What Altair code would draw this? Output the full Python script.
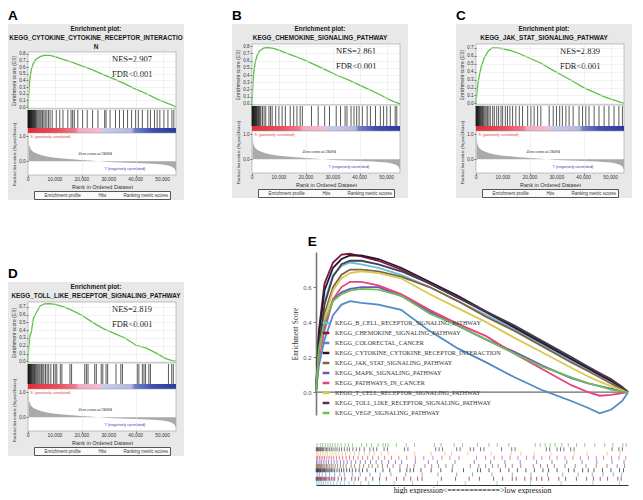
import altair as alt
import pandas as pd

# ---------------------------------------------------------------- data
X_MAX = 55000
RANKS = [0, 300, 700, 1200, 2000, 3000, 4500, 6000, 8000, 10000, 13000, 16000,
         20000, 24000, 28000, 32000, 36000, 40000, 44000, 48000, 51000, 53500, 55000]
ES_A = [0, 0.22, 0.42, 0.56, 0.66, 0.72, 0.76, 0.78, 0.78, 0.76, 0.72, 0.68,
        0.62, 0.56, 0.49, 0.42, 0.35, 0.27, 0.20, 0.12, 0.07, 0.03, 0.0]
ES_B = [0, 0.25, 0.45, 0.58, 0.68, 0.74, 0.775, 0.78, 0.77, 0.745, 0.70, 0.66,
        0.60, 0.53, 0.46, 0.39, 0.33, 0.26, 0.19, 0.12, 0.06, 0.02, 0.0]
ES_C = [0, 0.12, 0.25, 0.35, 0.47, 0.57, 0.66, 0.70, 0.70, 0.69, 0.665, 0.63,
        0.57, 0.51, 0.43, 0.355, 0.28, 0.20, 0.14, 0.08, 0.045, 0.015, 0.0]
ES_D = [0, 0.18, 0.33, 0.37, 0.55, 0.62, 0.71, 0.735, 0.74, 0.73, 0.70, 0.66,
        0.59, 0.50, 0.42, 0.36, 0.30, 0.21, 0.17, 0.10, 0.04, 0.01, 0.0]

HITS_A = [30, 120, 210, 300, 420, 540, 660, 780, 900, 1050, 1200, 1350, 1500, 1700, 1900,
          2100, 2300, 2500, 2750, 3000, 3300, 3700, 4100, 4500, 4900, 5400, 5900, 6400, 7000,
          7600, 8200, 9000, 10500, 11800, 13000, 14800, 16000, 16600, 17200, 18500, 20300,
          22000, 24000, 26000, 28500, 29000, 30500, 32500, 34000, 35500, 37000, 38500, 40000,
          41000, 42500, 44500, 45500, 47000, 48000, 49000, 50500, 52000, 53500, 54200]
HITS_B = [30, 130, 250, 380, 500, 650, 800, 950, 1100, 1300, 1500, 1700, 1900, 2150, 2400,
          2700, 3000, 3300, 3900, 4500, 5100, 6300, 6900, 7500, 8800, 10000, 11200, 12400,
          14200, 15500, 16700, 17900, 18700, 22100, 24600, 27000, 28800, 31300, 32900, 34600,
          35300, 36800, 37900, 38900, 39800, 41000, 42800, 44000, 45900, 47700, 48900, 50100,
          51400, 53200, 53800]
HITS_C = [40, 150, 280, 420, 560, 700, 850, 1000, 1200, 1400, 1600, 1850, 2100, 2400, 2700,
          3000, 3400, 3800, 4300, 4800, 5300, 6200, 6800, 7700, 8400, 9300, 9900, 10900, 11700,
          12600, 13600, 14800, 16100, 17300, 19200, 20400, 21600, 22900, 24100, 27200, 28700,
          29900, 31100, 32100, 33400, 34600, 36100, 38300, 39600, 40800, 42000, 43900, 45700,
          47600, 49400, 51300, 53100, 54400]
HITS_D = [40, 150, 260, 380, 500, 650, 800, 950, 1150, 1350, 1600, 1850, 2100, 2400, 2700,
          3000, 3350, 3700, 4100, 4500, 5000, 5500, 5900, 6500, 7100, 7700, 8500, 9500, 10100,
          10700, 12000, 12600, 15600, 16200, 21100, 21700, 22300, 24800, 25400, 27200, 27800,
          29000, 29600, 32700, 34500, 35100, 40600, 41200, 42500, 43100, 43700, 44900, 45500,
          52200, 53400, 54000]

METRIC_RANKS = [0, 200, 500, 1000, 2000, 3500, 5000, 7500, 10000, 15000, 20000, 24000,
                26094, 30000, 35000, 40000, 45000, 50000, 52000, 53500, 54500, 55000]
METRIC_VALUES = [1.1, 0.85, 0.62, 0.47, 0.36, 0.29, 0.24, 0.18, 0.14, 0.09, 0.05, 0.02,
                 0.0, -0.03, -0.05, -0.07, -0.09, -0.13, -0.17, -0.22, -0.3, -0.42]

XTICKS = [0, 10000, 20000, 30000, 40000, 50000]
XTICK_LABELS = ["0", "10,000", "20,000", "30,000", "40,000", "50,000"]

PANEL_TITLES = {
    "A": ["Enrichment plot:", "KEGG_CYTOKINE_CYTOKINE_RECEPTOR_INTERACTIO", "N"],
    "B": ["Enrichment plot:", "KEGG_CHEMOKINE_SIGNALING_PATHWAY"],
    "C": ["Enrichment plot:", "KEGG_JAK_STAT_SIGNALING_PATHWAY"],
    "D": ["Enrichment plot:", "KEGG_TOLL_LIKE_RECEPTOR_SIGNALING_PATHWAY"],
}
NES = {"A": "NES=2.907", "B": "NES=2.861", "C": "NES=2.839", "D": "NES=2.819"}
LEGEND_ITEMS = ["Enrichment profile", "Hits", "Ranking metric scores"]

E_RANKS = [0, 500, 1500, 3000, 4500, 6000, 8000, 11000, 15000, 20000, 25000, 30000,
           35000, 40000, 45000, 48000, 50000, 52000, 54000, 55000]
E_B_CELL = [0, 0.30, 0.52, 0.67, 0.72, 0.74, 0.73, 0.71, 0.67, 0.60, 0.52, 0.44,
            0.36, 0.27, 0.18, 0.13, 0.095, 0.06, 0.02, 0]
E_CHEMOKINE = [0, 0.35, 0.62, 0.74, 0.785, 0.79, 0.775, 0.75, 0.70, 0.62, 0.54, 0.455,
               0.37, 0.28, 0.19, 0.14, 0.10, 0.065, 0.025, 0]
E_COLORECTAL = [0, 0.15, 0.30, 0.44, 0.50, 0.52, 0.51, 0.50, 0.47, 0.35, 0.25, 0.17,
                0.085, 0.01, -0.05, -0.09, -0.12, -0.10, -0.05, 0]
E_CYTOKINE = [0, 0.33, 0.58, 0.71, 0.76, 0.78, 0.78, 0.76, 0.71, 0.63, 0.55, 0.46,
              0.37, 0.28, 0.19, 0.135, 0.10, 0.065, 0.025, 0]
E_JAK_STAT = [0, 0.22, 0.45, 0.60, 0.67, 0.70, 0.70, 0.69, 0.66, 0.60, 0.52, 0.43,
              0.35, 0.26, 0.17, 0.12, 0.085, 0.05, 0.015, 0]
E_MAPK = [0, 0.20, 0.38, 0.53, 0.57, 0.59, 0.60, 0.60, 0.55, 0.46, 0.38, 0.30,
          0.23, 0.15, 0.08, 0.05, 0.035, 0.02, 0.005, 0]
E_PATHWAYS = [0, 0.20, 0.35, 0.53, 0.60, 0.63, 0.63, 0.61, 0.56, 0.47, 0.39, 0.32,
              0.22, 0.13, 0.04, 0.0, -0.02, -0.015, -0.005, 0]
E_T_CELL = [0, 0.22, 0.42, 0.58, 0.65, 0.68, 0.69, 0.68, 0.65, 0.56, 0.48, 0.40,
            0.31, 0.225, 0.14, 0.09, 0.06, 0.035, 0.01, 0]
E_TOLL = [0, 0.25, 0.50, 0.66, 0.73, 0.75, 0.75, 0.73, 0.69, 0.62, 0.54, 0.46,
          0.38, 0.29, 0.20, 0.145, 0.11, 0.075, 0.03, 0]
E_VEGF = [0, 0.25, 0.40, 0.52, 0.56, 0.58, 0.59, 0.585, 0.55, 0.45, 0.38, 0.30,
          0.22, 0.145, 0.085, 0.05, 0.035, 0.015, 0.005, 0]

E_NAMES = ["KEGG_B_CELL_RECEPTOR_SIGNALING_PATHWAY", "KEGG_CHEMOKINE_SIGNALING_PATHWAY",
           "KEGG_COLORECTAL_CANCER", "KEGG_CYTOKINE_CYTOKINE_RECEPTOR_INTERACTION",
           "KEGG_JAK_STAT_SIGNALING_PATHWAY", "KEGG_MAPK_SIGNALING_PATHWAY",
           "KEGG_PATHWAYS_IN_CANCER", "KEGG_T_CELL_RECEPTOR_SIGNALING_PATHWAY",
           "KEGG_TOLL_LIKE_RECEPTOR_SIGNALING_PATHWAY", "KEGG_VEGF_SIGNALING_PATHWAY"]
E_COLORS = ["#5ec4d8", "#7d1842", "#4f8cc6", "#2a1830", "#7f6249",
            "#6958b4", "#e6427e", "#d9c94c", "#4a3a4c", "#6cbd5c"]

BAR_VEGF = [175, 760, 1170, 1630, 2100, 2510, 2915, 3380, 3850, 4430, 5130, 5710, 6410, 8050,
            8920, 9800, 10960, 11830, 12240, 12710, 14160, 15910, 17370, 20870, 22040, 24370,
            25830, 28450, 30490, 31950, 33990, 38650, 39530, 40400, 41280, 42150, 43320, 44480,
            45940, 47390, 49140, 50890, 52350, 54100, 54680]
BAR_T_CELL = [100, 400, 800, 1200, 1600, 2000, 2500, 3000, 3500, 4000, 4600, 5200, 6000, 6800,
              7600, 8500, 9400, 10300, 11500, 12700, 17400, 20300, 22700, 23900, 26800, 30900,
              34400, 36100, 38500, 41400, 45500, 47800, 51300, 53600]
BAR_PATHWAYS = [100, 300, 600, 900, 1200, 1500, 1900, 2300, 2700, 3100, 3600, 4100, 4700, 5300,
                5900, 6600, 7400, 8200, 9100, 10000, 11000, 12100, 13300, 14600, 16000, 17500,
                19000, 20600, 22200, 23600, 25200, 28300, 29900, 31400, 32800, 34200, 35600,
                37100, 38400, 39800, 41200, 42500, 43900, 45300, 46600, 48000, 49400, 50700,
                52100, 53400, 54600]
BAR_MAPK = [100, 350, 700, 1000, 1400, 1800, 2200, 2700, 3200, 3700, 4300, 4900, 5500, 6200,
            7000, 7800, 8700, 9600, 10600, 11600, 12800, 14000, 15100, 17500, 19800, 21400,
            24500, 27900, 30800, 33300, 36000, 38900, 41600, 44200, 46900, 49500, 52200, 54300]
BAR_COLORECTAL = [200, 600, 1100, 1700, 2400, 3300, 4200, 5000, 6400, 7800, 9500, 11300, 13200,
                  15800, 18700, 21500, 24800, 27600, 31000, 34600, 37900, 40800, 43500, 46200,
                  48700, 50600, 52400, 53900]
BAR_B_CELL = [100, 400, 700, 1000, 1300, 1700, 2100, 2600, 3100, 3700, 4300, 5000, 5800, 6700,
              7900, 9300, 11200, 13800, 17000, 21400, 26300, 31900, 37800, 43200, 48800, 53500]

# ---------------------------------------------------------------- style
SANS = "Liberation Sans"
SERIF = "Liberation Serif"
PANEL_GRAY = "#e8e8e8"
FRAME = "#9a9a9a"
GREEN = "#5fbf46"
PLOT_W = 148
LEFT = 20
RIGHT = 8
ONE = pd.DataFrame({"k": [0]})
XS = alt.Scale(domain=[0, X_MAX], nice=False, zero=False)

STRIP = alt.LinearGradient(
    gradient="linear", x1=0, x2=1, y1=0, y2=0,
    stops=[alt.GradientStop(offset=0.0, color="#e42a32"),
           alt.GradientStop(offset=0.2, color="#e8505c"),
           alt.GradientStop(offset=0.32, color="#f07890"),
           alt.GradientStop(offset=0.34, color="#f4a8bc"),
           alt.GradientStop(offset=0.49, color="#f0c0d0"),
           alt.GradientStop(offset=0.5, color="#cccbe8"),
           alt.GradientStop(offset=0.7, color="#b4b6e0"),
           alt.GradientStop(offset=0.72, color="#7080c8"),
           alt.GradientStop(offset=0.84, color="#4050b0"),
           alt.GradientStop(offset=1.0, color="#2a3aa0")])


def box(x1, x2, y1, y2, **kw):
    return alt.Chart(ONE).mark_rect(**kw).encode(
        x=alt.value(x1), x2=alt.value(x2), y=alt.value(y1), y2=alt.value(y2))


def header_view(key, title_h):
    bg = box(-LEFT, PLOT_W + RIGHT, 0, title_h, color=PANEL_GRAY)
    head = alt.Chart(ONE).mark_text(align="center", baseline="top", font=SANS,
                                    fontSize=6.4, fontWeight="bold", color="#1a1a1a",
                                    lineHeight=9).encode(
        x=alt.value((PLOT_W + RIGHT - LEFT) / 2), y=alt.value(1.5),
        text=alt.value(PANEL_TITLES[key]))
    return alt.layer(bg, head).properties(width=PLOT_W, height=title_h)


def es_view(key, values, dom, ticks, es_h):
    df = pd.DataFrame({"rank": RANKS, "es": values})
    bg = box(-LEFT, PLOT_W + RIGHT, 0, es_h, color=PANEL_GRAY)
    frame = box(0, PLOT_W, 0, es_h, fill="white", stroke=FRAME, strokeWidth=0.6)
    line = alt.Chart(df).mark_line(color=GREEN, strokeWidth=1.3).encode(
        x=alt.X("rank:Q", scale=XS,
                axis=alt.Axis(values=XTICKS, labels=False, ticks=False, domain=False,
                              grid=True, gridColor="#e4e4e4", gridWidth=0.5,
                              title=None, zindex=1)),
        y=alt.Y("es:Q", scale=alt.Scale(domain=dom, nice=False, zero=False),
                axis=alt.Axis(values=ticks, format=".1f", labelFont=SANS,
                              labelFontSize=4.5, labelColor="#333", labelPadding=1,
                              labelOverlap=False,
                              tickSize=2, tickColor="#777", domain=False,
                              grid=True, gridColor="#e4e4e4", gridWidth=0.5,
                              title="Enrichment score (ES)", titleFont=SANS,
                              titleFontSize=5, titleFontWeight="normal",
                              titleColor="#333", titlePadding=2, zindex=1)))
    nes = alt.Chart(ONE).mark_text(align="left", baseline="middle", font=SERIF,
                                   fontSize=8.5, color="#111").encode(
        x=alt.value(84), y=alt.value(7), text=alt.value(NES[key]))
    fdr = alt.Chart(ONE).mark_text(align="left", baseline="middle", font=SERIF,
                                   fontSize=8.5, color="#111").encode(
        x=alt.value(84), y=alt.value(22), text=alt.value("FDR<0.001"))
    return alt.layer(bg, frame, line, nes, fdr).properties(width=PLOT_W, height=es_h)


def hits_view(hits, hits_h):
    bar_h = hits_h - 5
    df = pd.DataFrame({"rank": hits})
    bg = box(-LEFT, PLOT_W + RIGHT, 0, hits_h, color=PANEL_GRAY)
    frame = box(0, PLOT_W, 0, hits_h, fill="white", stroke=FRAME, strokeWidth=0.6)
    rules = alt.Chart(df).mark_rule(color="#111", strokeWidth=0.7).encode(
        x=alt.X("rank:Q", scale=XS, axis=None),
        y=alt.value(1), y2=alt.value(bar_h))
    strip = alt.Chart(ONE).mark_rect(color=STRIP).encode(
        x=alt.datum(0), x2=alt.datum(X_MAX), y=alt.value(bar_h), y2=alt.value(hits_h))
    return alt.layer(bg, frame, rules, strip).properties(width=PLOT_W, height=hits_h)


def ranked_view(ranked_h, bottom_h):
    df = pd.DataFrame({"rank": METRIC_RANKS, "metric": METRIC_VALUES,
                       "series": ["Ranking metric scores"] * len(METRIC_RANKS)})
    tick_df = pd.DataFrame({"rank": XTICKS, "label": XTICK_LABELS})
    bg = box(-LEFT, PLOT_W + RIGHT, 0, ranked_h + bottom_h, color=PANEL_GRAY)
    frame = box(0, PLOT_W, 0, ranked_h, fill="white", stroke=FRAME, strokeWidth=0.6)
    area = alt.Chart(df).mark_area(opacity=1).encode(
        x=alt.X("rank:Q", scale=XS,
                axis=alt.Axis(values=XTICKS, labels=False,
                              tickSize=2, tickColor="#777", domain=False,
                              grid=True, gridColor="#e4e4e4", gridWidth=0.5,
                              title="Rank in Ordered Dataset", titleFont=SANS,
                              titleFontSize=5.5, titleFontWeight="normal",
                              titleColor="#333", titlePadding=7, zindex=1)),
        y=alt.Y("metric:Q", scale=alt.Scale(domain=[-0.55, 1.12], nice=False, zero=False),
                axis=alt.Axis(values=[0, 0.5, 1.0], format=".1f", labelFont=SANS,
                              labelFontSize=4.5, labelColor="#333", labelPadding=1,
                              labelOverlap=False,
                              tickSize=2, tickColor="#777", domain=False, grid=False,
                              title="Ranked list metric (Signal2Noise)", titleFont=SANS,
                              titleFontSize=4.3, titleFontWeight="normal",
                              titleColor="#333", titlePadding=2, zindex=1)),
        color=alt.Color("series:N",
                        scale=alt.Scale(domain=LEGEND_ITEMS,
                                        range=[GREEN, "#222222", "#aaaaaa"]),
                        legend=alt.Legend(orient="none", legendX=6, legendY=ranked_h + 16,
                                          direction="horizontal", title=None,
                                          symbolType="stroke", symbolSize=30,
                                          symbolStrokeWidth=1, labelFont=SANS,
                                          labelFontSize=4.5, labelColor="#333",
                                          labelOffset=2, columnPadding=8, padding=1.5,
                                          strokeColor="#555", fillColor="#fafafa",
                                          zindex=1)))
    xlab = alt.Chart(tick_df).mark_text(align="center", baseline="middle", font=SANS,
                                        fontSize=4.8, color="#333").encode(
        x=alt.X("rank:Q", scale=XS), y=alt.value(ranked_h + 4.5), text="label:N")
    t_h = alt.Chart(ONE).mark_text(align="left", baseline="middle", font=SANS,
                                   fontSize=3.8, color="#e03a3a").encode(
        x=alt.value(2), y=alt.value(4), text=alt.value("'h' (positively correlated)"))
    t_z = alt.Chart(ONE).mark_text(align="center", baseline="middle", font=SANS,
                                   fontSize=3.8, color="#222").encode(
        x=alt.datum(25000), y=alt.datum(0.28), text=alt.value("Zero cross at 26094"))
    t_l = alt.Chart(ONE).mark_text(align="center", baseline="middle", font=SANS,
                                   fontSize=3.8, color="#3a3ac0").encode(
        x=alt.datum(36000), y=alt.datum(-0.3), text=alt.value("'l' (negatively correlated)"))
    return alt.layer(bg, frame, area, xlab, t_h, t_z, t_l).properties(
        width=PLOT_W, height=ranked_h)


def letter_title(ch, dx=0):
    return alt.TitleParams(text=ch, font=SANS, fontSize=13.5, fontWeight="bold",
                           color="black", anchor="start", frame="bounds", offset=2, dx=dx)


def gsea_panel(key, values, dom, ticks, hits, title_h, es_h, hits_h):
    ranked_h = 42
    bottom_h = 25
    p = alt.vconcat(header_view(key, title_h),
                    es_view(key, values, dom, ticks, es_h),
                    hits_view(hits, hits_h),
                    ranked_view(ranked_h, bottom_h),
                    spacing=0, bounds="flush", title=letter_title(key))
    return p.resolve_scale(color="independent").resolve_legend(color="independent")


TICKS8 = [0, 0.1, 0.2, 0.3, 0.4, 0.5, 0.6, 0.7, 0.8]
TICKS7 = [0, 0.1, 0.2, 0.3, 0.4, 0.5, 0.6, 0.7]

panel_a = gsea_panel("A", ES_A, [-0.03, 0.83], TICKS8, HITS_A, 28, 57, 24)
panel_b = gsea_panel("B", ES_B, [-0.015, 0.83], TICKS8, HITS_B, 20, 61, 26)
panel_c = gsea_panel("C", ES_C, [-0.02, 0.75], TICKS7, HITS_C, 20, 61, 26)
panel_d = gsea_panel("D", ES_D, [-0.02, 0.76], TICKS7, HITS_D, 20, 61, 26)

# ---------------------------------------------------------------- panel E
E_W = 312
E_H = 163
E_SERIES = [E_B_CELL, E_CHEMOKINE, E_COLORECTAL, E_CYTOKINE, E_JAK_STAT,
            E_MAPK, E_PATHWAYS, E_T_CELL, E_TOLL, E_VEGF]
e_rows = []
for name, vals in zip(E_NAMES, E_SERIES):
    for r, v in zip(E_RANKS, vals):
        e_rows.append({"set": name, "rank": r, "es": v})
e_df = pd.DataFrame(e_rows)

BARS = [BAR_B_CELL, HITS_B, BAR_COLORECTAL, HITS_A, HITS_C,
        BAR_MAPK, BAR_PATHWAYS, BAR_T_CELL, HITS_D, BAR_VEGF]
b_rows = []
for name, ranks in zip(E_NAMES, BARS):
    for r in ranks:
        b_rows.append({"set": name, "rank": r})
b_df = pd.DataFrame(b_rows)
ROW_ORDER = list(reversed(E_NAMES))

e_color_scale = alt.Scale(domain=E_NAMES, range=E_COLORS)

zero = alt.Chart(ONE).mark_rule(color="#6a6a6a", strokeWidth=1.3).encode(y=alt.datum(0))
e_lines = alt.Chart(e_df).mark_line(strokeWidth=1.8).encode(
    x=alt.X("rank:Q", scale=XS, axis=None),
    y=alt.Y("es:Q", scale=alt.Scale(domain=[-0.13, 0.80], nice=False, zero=False),
            axis=alt.Axis(values=[0, 0.2, 0.4, 0.6], format=".1f", labelFont=SANS,
                          labelFontSize=6, labelColor="#555", tickSize=3,
                          tickColor="#777", domainColor="#777", domainWidth=1.6,
                          grid=False, title="Enrichment Score", titleFont=SERIF,
                          titleFontSize=7.3, titleFontWeight="normal",
                          titleColor="#333", titlePadding=3)),
    color=alt.Color("set:N", scale=e_color_scale,
                    legend=alt.Legend(orient="none", legendX=5, legendY=66, title=None,
                                      symbolType="stroke", symbolSize=45,
                                      symbolStrokeWidth=2.5, labelFont=SERIF,
                                      labelFontSize=6.2, labelColor="#333",
                                      labelLimit=400, labelOffset=4, rowPadding=0,
                                      padding=0)))
e_top = alt.layer(zero, e_lines).properties(width=E_W, height=E_H)

e_bottom = alt.Chart(b_df).mark_tick(thickness=1, size=4).encode(
    x=alt.X("rank:Q", scale=XS,
            axis=alt.Axis(labels=False, ticks=False, grid=False, domain=True,
                          domainColor="#333", domainWidth=1,
                          title="high expression<============>low expression",
                          titleFont=SERIF, titleFontSize=7.8, titleFontWeight="normal",
                          titleColor="#111", titlePadding=1)),
    y=alt.Y("set:N", sort=ROW_ORDER, axis=None,
            scale=alt.Scale(domain=ROW_ORDER, paddingInner=0, paddingOuter=0)),
    color=alt.Color("set:N", scale=e_color_scale, legend=None),
).properties(width=E_W, height=42)

panel_e = alt.vconcat(e_top, e_bottom, spacing=28, bounds="flush",
                      title=letter_title("E", dx=16)
                      ).resolve_scale(color="independent").resolve_legend(color="independent")

spacer = box(0, 4, 0, 14, opacity=0).properties(width=4, height=14)
d_col = alt.vconcat(spacer, panel_d, spacing=0
                    ).resolve_scale(color="independent").resolve_legend(color="independent")

row1 = alt.hconcat(panel_a, panel_b, panel_c, spacing=48
                   ).resolve_scale(color="independent").resolve_legend(color="independent")
row2 = alt.hconcat(d_col, panel_e, spacing=107
                   ).resolve_scale(color="independent").resolve_legend(color="independent")

chart = alt.vconcat(row1, row2, spacing=34).resolve_scale(
    color="independent").resolve_legend(color="independent").properties(
    padding=0, background="white").configure_view(strokeWidth=0)

chart.save("out.html", embed_options={"renderer": "svg", "actions": False})
